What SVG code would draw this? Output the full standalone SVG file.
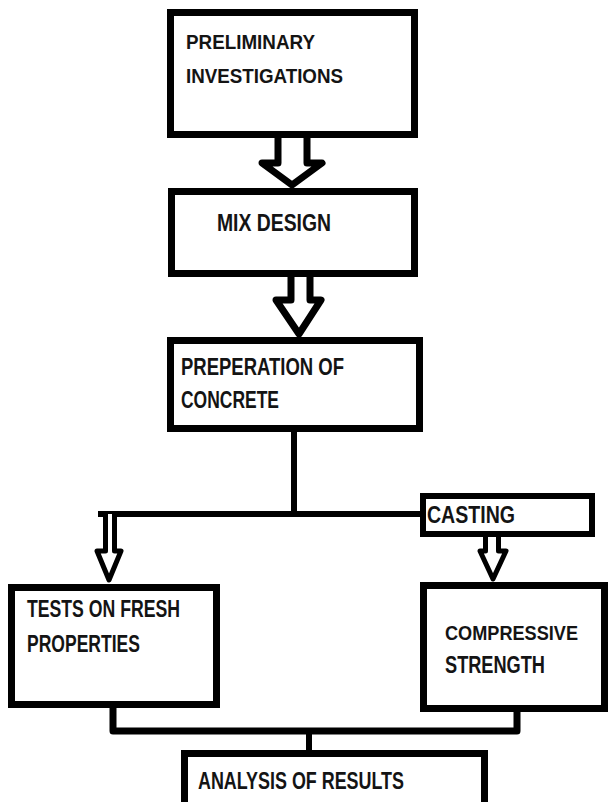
<svg xmlns="http://www.w3.org/2000/svg" width="609" height="802" viewBox="0 0 609 802">
<style>
.box{fill:#fff;stroke:#000;stroke-width:7}
.t{font-family:"Liberation Sans",Arial,sans-serif;font-weight:bold;font-size:24px;fill:#141414}
.arr{fill:#fff;stroke:#000;stroke-width:7;stroke-linejoin:round}
.ln{fill:none;stroke:#000;stroke-width:6;stroke-linejoin:round;stroke-linecap:square}
</style>
<rect width="609" height="802" fill="#fff"/>
<g id="connectors">
<path class="ln" d="M294,432 V514 M101,514 H421"/>
<path class="ln" d="M113,708 V731 H517 V712" style="stroke-width:7"/>
<path class="ln" d="M309,731 V752"/>
<path class="arr" d="M278,138 V163 H262 L292,185 L322,163 H307 V138"/>
<path class="arr" d="M291,274 V300 H276 L299,334 L321,300 H310 V274"/>
<path class="arr" style="stroke-width:5" d="M105.5,514 V551 H97 L109,580 L121,551 H114.5 V514"/>
<path class="arr" style="stroke-width:5" d="M485.5,537 V551 H480 L493,579 L506,551 H498.5 V537"/>
</g>
<g id="preliminary">
<rect class="box" x="170.5" y="12.5" width="244" height="122"/>
<text class="t" style="font-size:21px" x="186" y="49" textLength="129" lengthAdjust="spacingAndGlyphs">PRELIMINARY</text>
<text class="t" style="font-size:21px" x="186" y="83" textLength="157" lengthAdjust="spacingAndGlyphs">INVESTIGATIONS</text>
</g>
<g id="mixdesign">
<rect class="box" x="171.5" y="191.5" width="243" height="82"/>
<text class="t" x="217" y="231" textLength="114" lengthAdjust="spacingAndGlyphs">MIX DESIGN</text>
</g>
<g id="preparation">
<rect class="box" x="170.5" y="340.5" width="249" height="88"/>
<text class="t" x="181" y="375" textLength="163" lengthAdjust="spacingAndGlyphs">PREPERATION OF</text>
<text class="t" x="181" y="408" textLength="98" lengthAdjust="spacingAndGlyphs">CONCRETE</text>
</g>
<g id="casting">
<rect class="box" style="stroke-width:6" x="423" y="496" width="169" height="38"/>
<text class="t" x="427" y="523" textLength="88" lengthAdjust="spacingAndGlyphs">CASTING</text>
</g>
<g id="fresh">
<rect class="box" x="11.5" y="587.5" width="205" height="117"/>
<text class="t" x="27" y="617" textLength="153" lengthAdjust="spacingAndGlyphs">TESTS ON FRESH</text>
<text class="t" x="27" y="652" textLength="113" lengthAdjust="spacingAndGlyphs">PROPERTIES</text>
</g>
<g id="compressive">
<rect class="box" x="423.5" y="585.5" width="181" height="123"/>
<text class="t" style="font-size:21px" x="445" y="640" textLength="133" lengthAdjust="spacingAndGlyphs">COMPRESSIVE</text>
<text class="t" x="445" y="673" textLength="100" lengthAdjust="spacingAndGlyphs">STRENGTH</text>
</g>
<g id="analysis">
<rect class="box" x="184.5" y="753.5" width="300" height="60"/>
<text class="t" x="198" y="789" textLength="206" lengthAdjust="spacingAndGlyphs">ANALYSIS OF RESULTS</text>
</g>
</svg>
